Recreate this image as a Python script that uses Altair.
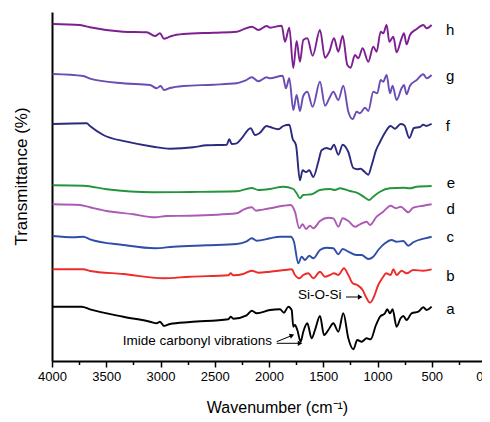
import altair as alt
import pandas as pd

# ---------------- data (wavenumber, transmittance a.u.) ----------------
wn_h = [3994, 3742, 3650, 3346, 3127, 3051, 3005, 2968, 2928, 2897, 2790, 2513, 2298, 2237, 2159, 2098, 2021,
        1991, 1883, 1853, 1813, 1776, 1745, 1715, 1684, 1647, 1598, 1530, 1484, 1444, 1401, 1361, 1321, 1278,
        1248, 1208, 1177, 1137, 1085, 1039, 1008, 971, 947, 916, 891, 854, 824, 778, 756, 732, 701, 639, 578, 547, 501]
t_h = [337, 336, 333.7, 329.3, 328.7, 325, 327.7, 322.3, 323.7, 325, 327, 328.3, 329.3, 331.7, 334.3, 331, 335,
       333.3, 335.3, 319.3, 333.3, 293, 320, 299.3, 321, 322.7, 305.3, 331, 303.3, 309.3, 322.7, 309.3, 325.3, 296,
       293.3, 306, 302.7, 312.7, 299.3, 314.3, 309.3, 329.3, 327.7, 336, 319.3, 324.3, 308.7, 322.7, 327.7, 316.7, 326, 332, 336, 332.7, 336]

wn_g = [3994, 3711, 3650, 3346, 3096, 3035, 2999, 2968, 2912, 2790, 2513, 2298, 2221, 2159, 2098, 2021,
        1991, 1874, 1844, 1813, 1776, 1745, 1715, 1684, 1647, 1598, 1530, 1484, 1444, 1407, 1361, 1315, 1269,
        1229, 1192, 1162, 1115, 1085, 1039, 1002, 971, 947, 916, 885, 861, 824, 778, 756, 732, 701, 639, 578, 547, 501]
t_g = [287, 285, 282.3, 277.7, 276, 272.7, 275, 271, 273, 275, 276.3, 277.7, 280.3, 283.7, 279.7, 283.7,
       282.7, 285.3, 272.7, 282.7, 251, 266, 250, 265.3, 269.3, 254.3, 279.3, 255.3, 262.7, 269.3, 261, 275.3, 249.3,
       242, 249.3, 247.7, 253.3, 250, 269.3, 267.7, 281, 279.3, 286, 267.7, 275.3, 261, 272.7, 276, 266.7, 275.3, 281, 286.7, 282.7, 286]

wn_f = [3994, 3680, 3650, 3527, 3312, 3066, 2912, 2698, 2575, 2390, 2366, 2344, 2298, 2252, 2169, 2129, 2089, 2021,
        1991, 1914, 1868, 1813, 1782, 1751, 1715, 1690, 1659, 1629, 1592, 1546, 1515, 1469, 1432, 1401, 1361, 1321,
        1269, 1223, 1186, 1155, 1125, 1085, 1054, 1014, 977, 931, 879, 839, 787, 753, 707, 664, 609, 578, 553, 501]
t_f = [237, 237.7, 235, 226, 219.3, 214.3, 212.3, 213.7, 215.7, 216.3, 221.7, 217, 217.7, 222.7, 232.7, 226, 227.7, 235,
       234, 231.7, 235, 236.3, 222.3, 215.7, 180.7, 190.7, 189, 190.7, 184, 199, 210.7, 213, 211.7, 216.3, 206.3, 216.3,
       209, 193, 191.7, 192.3, 189.7, 186.3, 195.7, 210.7, 219, 228.3, 235, 232.3, 237, 235.7, 223, 233, 234, 236.3, 235, 237.3]

wn_e = [3994, 3711, 3496, 3066, 2728, 2298, 2159, 2098, 1991, 1868, 1776, 1745, 1715, 1684, 1607, 1530, 1438,
        1392, 1346, 1254, 1177, 1115, 1079, 1039, 977, 885, 762, 701, 639, 501]
t_e = [175.7, 175.3, 171.7, 168.7, 169, 169.7, 173, 171, 172, 174.3, 172, 167.7, 162.7, 166, 166.7, 171, 172,
       171, 172.7, 170, 167.7, 163.3, 161, 164.3, 169.3, 172.7, 173.3, 172.7, 174.3, 175]

wn_d = [3994, 3742, 3650, 3496, 3250, 3051, 2943, 2728, 2298, 2230, 2159, 2120, 2083, 1991, 1868, 1800, 1761, 1721,
        1690, 1659, 1622, 1592, 1530, 1453, 1407, 1361, 1321, 1269, 1208, 1162, 1100, 1070, 1008, 947, 879, 830,
        787, 716, 670, 578, 501]
t_d = [156.7, 156, 153.7, 150, 146.7, 143.7, 145, 145.3, 147.7, 151.7, 153.7, 150.3, 151, 152.7, 155.3, 156, 149.3, 132.7,
       136.7, 132, 135.3, 132.7, 140, 143.3, 142.7, 134.3, 142.7, 140, 134.3, 136.7, 139.3, 136, 144.3, 149.3, 155.3, 152.7,
       154.3, 148.7, 153.3, 155.3, 156.7]

wn_c = [3994, 3803, 3711, 3650, 3343, 3051, 2882, 2575, 2298, 2206, 2159, 2113, 1991, 1899, 1800, 1770, 1730, 1699,
        1668, 1629, 1592, 1530, 1469, 1407, 1361, 1321, 1269, 1192, 1146, 1085, 1039, 993, 931, 870, 824, 762, 716,
        670, 563, 501]
t_c = [125, 123.7, 124.3, 121.7, 116, 112.7, 114.3, 115.7, 117, 119.7, 122.7, 120.3, 122.7, 124.3, 124.3, 119.3, 97.7, 104.3,
       101, 105.3, 102.7, 111, 113.3, 112.7, 106.7, 112, 109.3, 106, 106, 102, 104.3, 111, 117.7, 121, 119.3, 120, 115.3,
       118.7, 122.7, 124.3]

wn_b = [3994, 3711, 3650, 3343, 2973, 2728, 2375, 2353, 2329, 2237, 2159, 2098, 1991, 1853, 1791, 1761, 1721, 1684,
        1638, 1592, 1530, 1484, 1438, 1401, 1361, 1309, 1269, 1229, 1186, 1137, 1100, 1070, 1039, 993, 947, 922, 879,
        854, 824, 778, 732, 670, 578, 501]
t_b = [91.7, 91.7, 90, 87, 82.7, 84.3, 85.7, 87.7, 85.7, 87, 90.3, 88.3, 89.3, 91, 91.7, 86, 82.7, 86,
       87.7, 82.7, 89.3, 84.3, 86, 87.7, 86, 92.7, 86, 77.7, 76, 71, 62.7, 58.3, 62.7, 76, 84.3, 87.7, 86,
       91.7, 86, 90.3, 87.7, 91, 90.3, 91.7]

wn_a = [3994, 3727, 3650, 3343, 3097, 3035, 3005, 2968, 2912, 2728, 2375, 2353, 2329, 2206, 2159, 2113, 1991, 1899,
        1862, 1822, 1791, 1776, 1761, 1739, 1708, 1684, 1647, 1607, 1576, 1530, 1493, 1453, 1407, 1361, 1315, 1269,
        1223, 1186, 1146, 1100, 1063, 1014, 977, 931, 910, 885, 861, 824, 787, 762, 732, 686, 624, 578, 547, 501]
t_a = [54.3, 54.3, 51.7, 44.3, 39.3, 37.7, 39.3, 35, 37, 39, 41.7, 44.3, 42.3, 45.7, 50.3, 47.7, 51, 51.7,
       48.3, 54.3, 51, 34.3, 36, 31, 19.3, 29.3, 37.7, 22.7, 31, 45, 26, 31, 37.7, 29.3, 47.7, 22.7,
       11.7, 21, 19.3, 22.7, 21.7, 36, 44.3, 47.7, 51.7, 47.7, 51.7, 34.3, 42.7, 45, 41, 47.7, 49.3, 53.7, 51, 54.3]

series_names = ["a", "b", "c", "d", "e", "f", "g", "h"]
series_colors = ["#000000", "#EE2A2A", "#2F4EAA", "#AC5BB5", "#23963D", "#2B2A7E", "#6A4DB3", "#7D1F90"]

label_wn = [366, 366, 365, 365, 361, 370, 368, 369]
label_t = [47, 80.3, 118.7, 147, 173, 229.7, 279.7, 325.7]

x_major = [0, 500, 1000, 1500, 2000, 2500, 3000, 3500, 4000]
x_minor = [250, 750, 1250, 1750, 2250, 2750, 3250, 3750]

# annotations
note_text = ["Si-O-Si", "Imide carbonyl vibrations"]
note_wn = [1733, 3348]
note_t = [62.5, 16.5]

arrow_id = ["si", "si", "im1", "im1", "im2", "im2"]
arrow_wn = [1290, 1178, 1929, 1800, 1929, 1730]
arrow_t = [64, 64, 19.3, 25, 17.7, 17.7]

head_wn = [1160, 1788, 1714]
head_t = [64, 25.6, 17.7]
head_angle = [0, 338, 0]

# ---------------- build tables ----------------
all_wn = [wn_a, wn_b, wn_c, wn_d, wn_e, wn_f, wn_g, wn_h]
all_t = [t_a, t_b, t_c, t_d, t_e, t_f, t_g, t_h]
rows = []
for name, wns, ts in zip(series_names, all_wn, all_t):
    for i, (w, t) in enumerate(zip(wns, ts)):
        rows.append({"series": name, "wn": w, "t": t, "idx": i})
df = pd.DataFrame(rows)

df_labels = pd.DataFrame({"series": series_names, "wn": label_wn, "t": label_t})
df_notes = pd.DataFrame({"text": note_text, "wn": note_wn, "t": note_t})
df_arrows = pd.DataFrame({"id": arrow_id, "wn": arrow_wn, "t": arrow_t})
df_heads = pd.DataFrame({"wn": head_wn, "t": head_t, "angle": head_angle})

FONT = "Liberation Sans"
xscale = alt.Scale(domain=[4000, 0], nice=False, zero=False)
yscale = alt.Scale(domain=[0, 349], nice=False, zero=False)

major_axis = alt.Axis(values=x_major, format="d", tickSize=6, tickWidth=1.5, tickColor="#000",
                      domainColor="#000", domainWidth=2, labelFontSize=13, labelFont=FONT,
                      labelColor="#000", labelPadding=3, grid=False,
                      labelAlign={"condition": {"test": "datum.value == 0", "value": "right"}, "value": "center"},
                      labelOffset={"condition": {"test": "datum.value == 0", "value": -3}, "value": 0},
                      title="Wavenumber (cm⁻¹)", titleFont=FONT, titleFontSize=16,
                      titleFontWeight="normal", titleColor="#000", titlePadding=16, titleX=225,
                      labelFlush=False, labelOverlap=False, orient="bottom")
minor_axis = alt.Axis(values=x_minor, tickSize=3.5, tickWidth=1.5, tickColor="#000", labels=False,
                      domain=False, grid=False, title=None, orient="bottom")
y_axis = alt.Axis(ticks=False, labels=False, grid=False, domainColor="#000", domainWidth=2,
                  title="Transmittance (%)", titleFont=FONT, titleFontSize=17,
                  titleFontWeight="normal", titleColor="#000", titlePadding=22, titleY=164)

color = alt.Color("series:N", scale=alt.Scale(domain=series_names, range=series_colors), legend=None)

lines = alt.Chart(df).mark_line(strokeWidth=1.9, strokeJoin="round", interpolate="monotone").encode(
    x=alt.X("wn:Q", scale=xscale, axis=major_axis),
    y=alt.Y("t:Q", scale=yscale, axis=y_axis),
    color=color,
    order="idx:Q",
)

minor = alt.Chart(df_labels).mark_point(opacity=0).encode(
    x=alt.X("wn:Q", scale=xscale, axis=minor_axis),
    y=alt.Y("t:Q", scale=yscale),
)

labels = alt.Chart(df_labels).mark_text(align="left", baseline="alphabetic", fontSize=15,
                                        font=FONT, color="#000").encode(
    x=alt.X("wn:Q", scale=xscale, axis=None), y=alt.Y("t:Q", scale=yscale), text="series:N")

notes = alt.Chart(df_notes).mark_text(align="left", baseline="alphabetic", fontSize=13.5,
                                      font=FONT, color="#000").encode(
    x=alt.X("wn:Q", scale=xscale, axis=None), y=alt.Y("t:Q", scale=yscale), text="text:N")

arrows = alt.Chart(df_arrows).mark_line(color="#000", strokeWidth=1).encode(
    x=alt.X("wn:Q", scale=xscale, axis=None), y=alt.Y("t:Q", scale=yscale), detail="id:N")

heads = alt.Chart(df_heads).mark_point(shape="triangle-right", filled=True, color="#000",
                                       size=28, opacity=1).encode(
    x=alt.X("wn:Q", scale=xscale, axis=None), y=alt.Y("t:Q", scale=yscale),
    angle=alt.Angle("angle:Q", scale=None))

chart = alt.layer(lines, minor, labels, notes, arrows, heads).resolve_axis(x="independent").properties(
    width=434, height=349,
    autosize=alt.AutoSizeParams(type="none"),
    padding={"left": 44, "top": 4, "right": -4, "bottom": 59},
    background="white",
).configure_view(stroke=None)

chart.save("out.html", embed_options={"renderer": "svg", "actions": False})
